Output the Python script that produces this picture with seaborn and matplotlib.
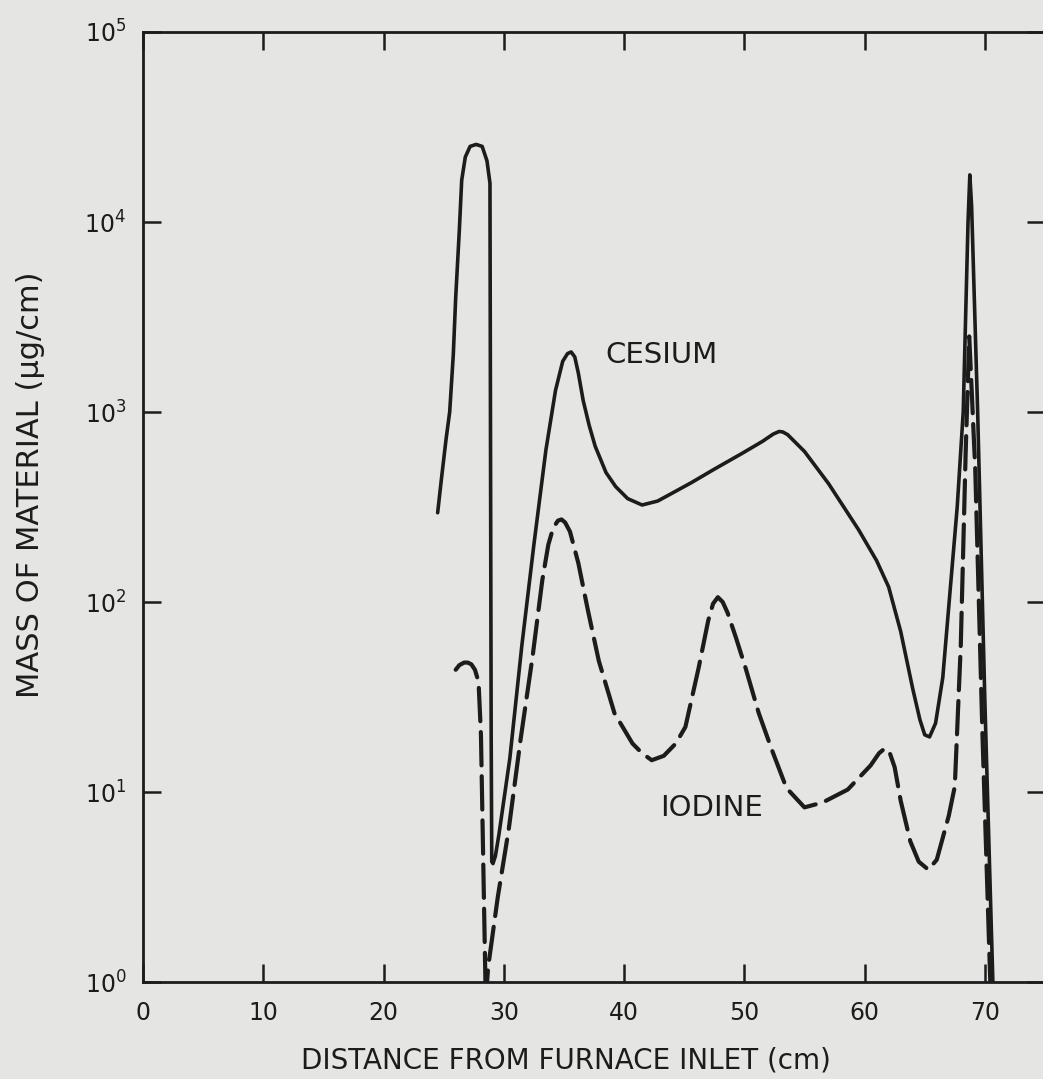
import numpy as np
import pandas as pd
import matplotlib
matplotlib.use("Agg")
import matplotlib.pyplot as plt
import seaborn as sns

# ---- data ----
cesium_x = [24.5, 24.8, 25.2, 25.5, 25.8, 26.0, 26.3, 26.5, 26.8, 27.2, 27.7, 28.2, 28.6, 28.85,
            28.9, 28.95, 29.0, 29.1, 29.3, 29.6, 30.5, 31.5, 32.5, 33.5, 34.3, 34.9, 35.3, 35.6,
            35.9, 36.2, 36.6, 37.1, 37.6, 38.5, 39.3, 40.3, 41.5, 42.8, 44.2, 45.6, 47.5, 49.8,
            51.5, 52.4, 52.9, 53.2, 53.6, 55.0, 57.0, 59.5, 61.0, 62.0, 63.0, 64.0, 64.6, 65.0,
            65.4, 65.9, 66.5, 67.0, 67.7, 68.2, 68.6, 68.75, 68.9, 69.4, 70.0, 70.8]
cesium_y = [295, 437, 720, 1000, 2000, 4000, 9000, 16600, 22000, 25000, 25600, 25000, 21000, 16000,
            500, 20, 4.3, 4.2, 4.6, 6.0, 15, 59, 200, 630, 1300, 1850, 2030, 2070,
            1950, 1600, 1150, 850, 660, 480, 405, 350, 324, 340, 380, 425, 500, 605,
            700, 765, 790, 785, 760, 620, 420, 240, 165, 120, 70, 35, 24, 20,
            19.5, 23, 40, 95, 316, 1000, 10000, 17700, 12000, 1000, 30, 0.5]

iodine_x = [26.0, 26.3, 26.7, 27.0, 27.3, 27.6, 27.9, 28.1, 28.3, 28.5, 28.7, 29.5, 30.4, 31.4,
            32.4, 33.2, 33.7, 34.1, 34.5, 34.8, 35.1, 35.5, 36.2, 37.0, 37.9, 39.2, 40.7, 41.5,
            42.3, 43.3, 44.3, 45.1, 46.2, 47.0, 47.4, 47.8, 48.2, 48.6, 49.3, 50.1, 51.2, 52.3,
            53.5, 55.0, 56.5, 58.6, 60.5, 61.2, 61.7, 62.1, 62.5, 63.0, 63.8, 64.5, 65.3, 66.0,
            67.0, 67.5, 68.0, 68.4, 68.7, 69.2, 69.8, 70.6]
iodine_y = [44, 46.5, 48, 48, 47, 44, 38, 20, 4, 0.8, 1.2, 2.8, 6.3, 19,
            52, 130, 200, 245, 268, 272, 262, 235, 160, 90, 49, 26, 18, 16,
            14.7, 15.5, 18, 22, 45, 80, 98, 106, 100, 88, 65, 45, 26, 16.6,
            10.5, 8.3, 8.8, 10.3, 13.8, 16, 17, 16, 13.5, 9, 5.5, 4.3, 3.9, 4.4,
            7.5, 10.7, 60, 600, 2500, 500, 20, 0.5]

x_ticks = [0, 10, 20, 30, 40, 50, 60, 70]
y_ticks = [1, 10, 100, 1000, 10000, 100000]
y_tick_labels = [r"$10^{0}$", r"$10^{1}$", r"$10^{2}$", r"$10^{3}$", r"$10^{4}$", r"$10^{5}$"]

cesium = pd.DataFrame({"x": cesium_x, "y": cesium_y})
iodine = pd.DataFrame({"x": iodine_x, "y": iodine_y})

# ---- style ----
sns.set_theme(style="ticks")
bg = "#e5e5e3"
ink = "#1c1c1c"
plt.rcParams["font.family"] = ["DejaVu Sans"]
plt.rcParams["mathtext.fontset"] = "dejavusans"

W, H = 1043, 1079
fig = plt.figure(figsize=(W / 100, H / 100), dpi=100, facecolor=bg)
left, right, bottom, top = 143 / W, 1045 / W, (H - 982) / H, (H - 32) / H
ax = fig.add_axes([left, bottom, right - left, top - bottom])
ax.set_facecolor(bg)

sns.lineplot(data=cesium, x="x", y="y", ax=ax, color=ink, lw=2.6,
             estimator=None, sort=False, solid_capstyle="round", solid_joinstyle="round")
sns.lineplot(data=iodine, x="x", y="y", ax=ax, color=ink, lw=3.0,
             estimator=None, sort=False, linestyle=(0, (8, 2.6)), dash_capstyle="round")

ax.set_yscale("log")
ax.set_xlim(0, 75)
ax.set_ylim(1, 1e5)
ax.set_xticks(x_ticks)
ax.set_xticklabels([str(t) for t in x_ticks])
ax.set_yticks(y_ticks)
ax.set_yticklabels(y_tick_labels)
ax.yaxis.set_minor_locator(matplotlib.ticker.NullLocator())
ax.xaxis.set_minor_locator(matplotlib.ticker.NullLocator())

for s in ax.spines.values():
    s.set_color(ink)
    s.set_linewidth(2.0)
    s.set_visible(True)

ax.tick_params(axis="both", which="major", direction="in", length=13, width=1.8,
               color=ink, top=True, right=True, labelcolor=ink)
ax.tick_params(axis="x", labelsize=17, pad=14)
ax.tick_params(axis="y", labelsize=17, pad=12)

ax.set_xlabel("DISTANCE FROM FURNACE INLET (cm)", color=ink, fontsize=20)
ax.xaxis.label.set_va("center")
ax.xaxis.set_label_coords((566 - 143) / 902, (982 - 1060) / 950)
ax.set_ylabel("MASS OF MATERIAL (μg/cm)", color=ink, fontsize=22)
ax.yaxis.label.set_va("center")
ax.yaxis.set_label_coords((31 - 143) / 902, (982 - 485) / 950)

fig.text(605 / W, 1 - 355 / H, "CESIUM", fontsize=21, color=ink, va="center", ha="left")
fig.text(660 / W, 1 - 808 / H, "IODINE", fontsize=21, color=ink, va="center", ha="left")

fig.savefig("out.png", dpi=100, facecolor=bg)
